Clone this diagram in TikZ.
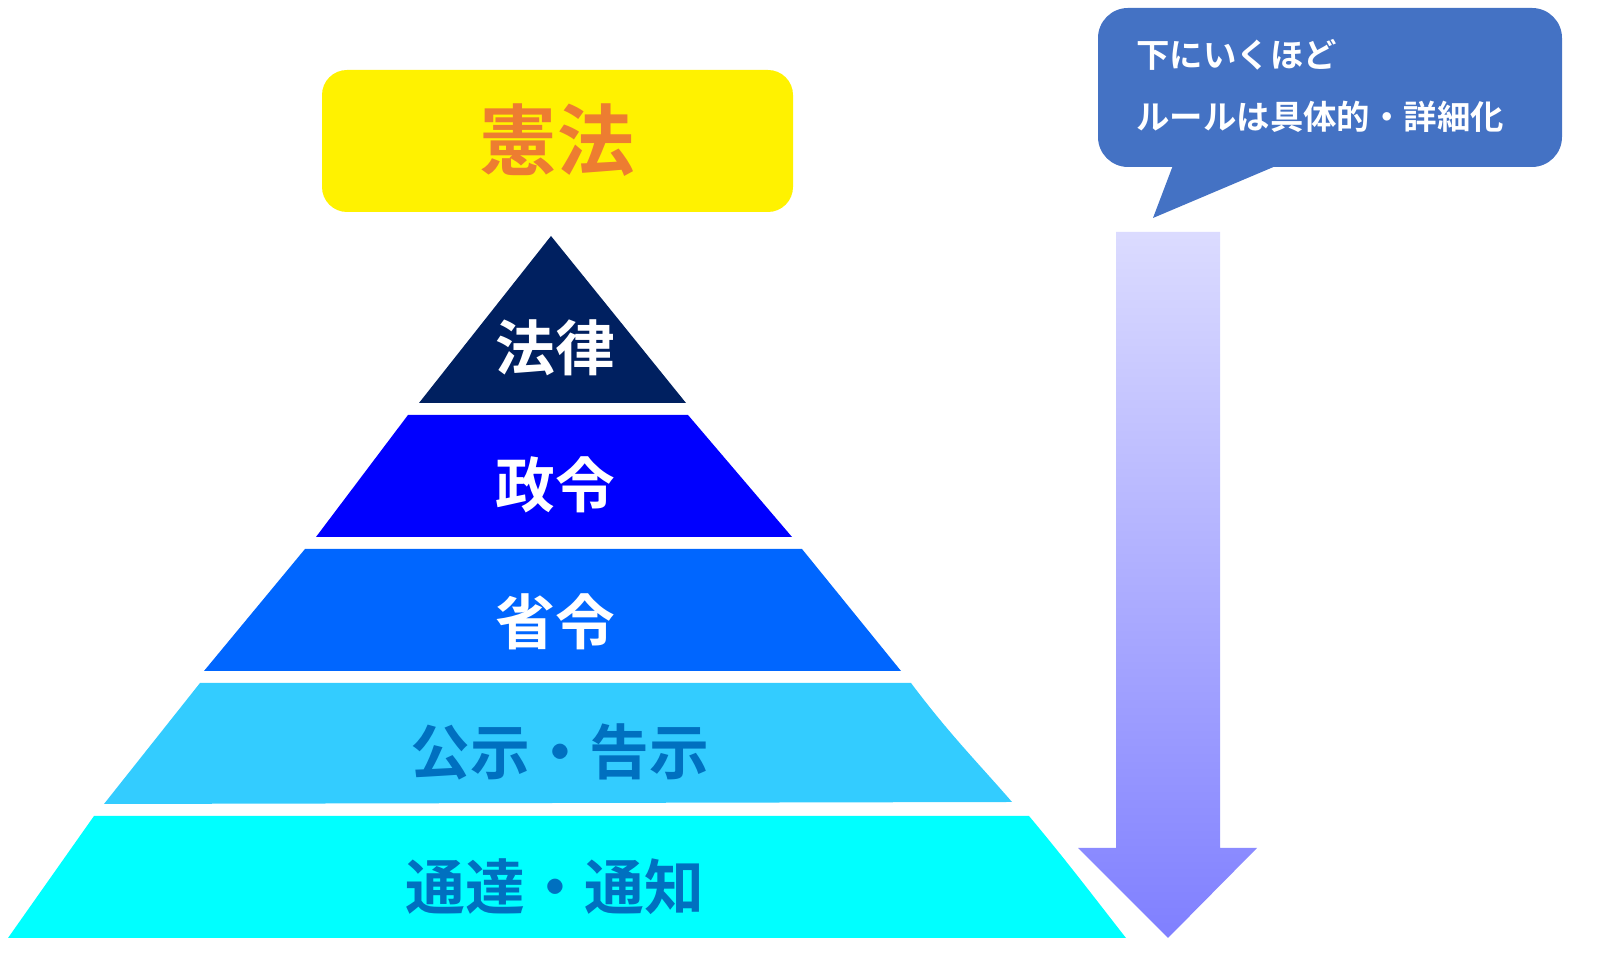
\documentclass[tikz,border=0pt]{standalone}
\usepackage{fontspec}
\newfontfamily\jpfont{Noto Sans CJK JP}[BoldFont={Noto Sans CJK JP Bold}]
\usetikzlibrary{positioning}
\definecolor{navy}{HTML}{002060}
\definecolor{seirei}{HTML}{0000FF}
\definecolor{shourei}{HTML}{0066FF}
\definecolor{kokuji}{HTML}{33CCFF}
\definecolor{tsuuchi}{HTML}{00FFFF}
\definecolor{deeptext}{HTML}{0070C0}
\definecolor{kenpou}{HTML}{ED7D31}
\definecolor{calloutblue}{HTML}{4472C4}

\begin{document}
\begin{tikzpicture}[
    x=0.01cm, y=-0.01cm,
    font=\jpfont\bfseries,
    label/.style={font=\jpfont\bfseries\fontsize{17}{20}\selectfont, white},
    darklabel/.style={font=\jpfont\bfseries\fontsize{17}{20}\selectfont, deeptext}
]
\useasboundingbox (0,0) rectangle (1602,968);

% Top box
\fill[yellow, rounded corners=0.25cm] (322,70) rectangle (793,212);
\node[font=\jpfont\bfseries\fontsize{22}{26}\selectfont, kenpou] (kenpou) at (557,140) {憲法};

% Pyramid layers
\fill[navy] (551,236) -- (686,403) -- (419,403) -- cycle;
\fill[seirei] (408,415) -- (688,415) -- (792,537) -- (316,537) -- cycle;
\fill[shourei] (305,549) -- (802,549) -- (901,671) -- (204,671) -- cycle;
\fill[kokuji] (200,683) -- (911,683) .. controls (950,735) and (980,765) .. (1012,802) -- (104,804) -- cycle;
\fill[tsuuchi] (94,816) -- (1029,816) .. controls (1070,865) and (1100,905) .. (1126,938) -- (8,938) -- cycle;

\node[label] (houritsu) at (555,348) {法律};
\node[label] (seireitext) at (555,485) {政令};
\node[label] (shoureitext) at (555,622) {省令};
\node[darklabel] (kokujitext) at (560,752) {公示・告示};
\node[darklabel] (tsuuchitext) at (555,887) {通達・通知};

% Arrow
\shade[top color=blue!14!white, bottom color=blue!50!white, draw=none]
    (1116,232) -- (1220,232) -- (1220,848) -- (1257,848) -- (1168,938)
    -- (1078,848) -- (1116,848) -- cycle;

% Callout
\fill[calloutblue, rounded corners=0.3cm] (1098,8) rectangle (1562,167);
\fill[calloutblue] (1175,160) -- (1153,218) -- (1290,160) -- cycle;
\node[anchor=west, white, font=\jpfont\bfseries\fontsize{9.5}{12}\selectfont] (line1) at (1124,55) {下にいくほど};
\node[anchor=west, white, font=\jpfont\bfseries\fontsize{9.5}{12}\selectfont] (line2) at (1124,117) {ルールは具体的・詳細化};
\end{tikzpicture}
\end{document}
